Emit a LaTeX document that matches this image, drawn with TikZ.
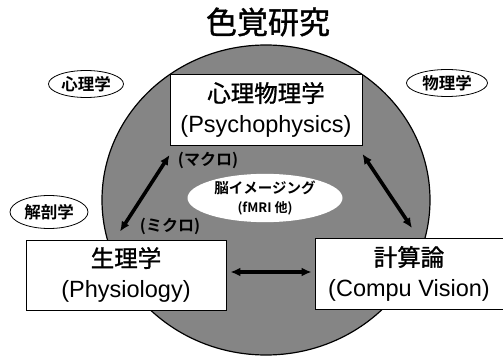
\documentclass[tikz,border=0pt]{standalone}
\usepackage{fontspec}
\setmainfont{Liberation Sans}
\newfontfamily\jp[FakeBold=1.2]{Noto Sans CJK JP}
\newfontfamily\jpb{Noto Sans CJK JP Bold}
\usetikzlibrary{arrows.meta,shapes.geometric}
\tikzset{
  bigbox/.style={draw=black,line width=0.9pt,fill=white,align=center,inner sep=0pt,
    font=\fontsize{23.5}{31}\selectfont},
  discipline/.style={ellipse,draw=black,line width=0.8pt,fill=white,inner sep=0pt,
    font=\jpb\fontsize{16.5}{16.5}\selectfont},
  tag/.style={font=\jpb\fontsize{16}{16}\selectfont,inner sep=1pt},
  dblarrow/.style={line width=3.6pt,{Latex[length=10pt,width=9pt]}-{Latex[length=10pt,width=9pt]}}
}
\begin{document}
\begin{tikzpicture}[x=1pt,y=-1pt]
\useasboundingbox (0,0) rectangle (503,358);
% field circle
\node[ellipse,draw=black,line width=1.2pt,fill=black!48,minimum width=328pt,minimum height=310pt,inner sep=0pt] (field) at (266,200) {};
% title
\node[font=\jp\fontsize{31}{31}\selectfont] (title) at (268,22) {色覚研究};
% main boxes
\node[bigbox,minimum width=192pt,minimum height=71pt] (tbox) at (266,110) {{\jp 心理物理学}\\(Psychophysics)};
\node[bigbox,minimum width=200pt,minimum height=70pt] (lbox) at (126,275) {{\jp 生理学}\\(Physiology)};
\node[bigbox,minimum width=188pt,minimum height=71pt] (rbox) at (409,274) {{\jp 計算論}\\(Compu Vision)};
% side disciplines
\node[discipline,minimum width=75pt,minimum height=27pt] (psy) at (86,84) {心理学};
\node[discipline,minimum width=81pt,minimum height=27pt] (phy) at (447,83) {物理学};
\node[discipline,minimum width=78pt,minimum height=33pt] (ana) at (49,212) {解剖学};
% brain imaging
\node[ellipse,fill=white,inner sep=0pt,minimum width=155pt,minimum height=47pt,align=center,
  font=\jpb\fontsize{14.5}{19}\selectfont] (img) at (265,198) {脳イメージング\\{\fontsize{13}{13}\selectfont(fMRI 他)}};
% scale labels
\node[tag] (macro) at (208,160) {(マクロ)};
\node[tag] (micro) at (170,226) {(ミクロ)};
% connectors
\draw[dblarrow] ([xshift=-6pt,yshift=8pt]lbox.north) -- ([yshift=-9pt]tbox.south west);
\draw[dblarrow] ([yshift=-8pt]tbox.south east) -- ([xshift=3pt,yshift=10pt]rbox.north);
\draw[dblarrow] ([xshift=4pt,yshift=3pt]lbox.east) -- ([xshift=-3pt,yshift=2pt]rbox.west);
\end{tikzpicture}
\end{document}
